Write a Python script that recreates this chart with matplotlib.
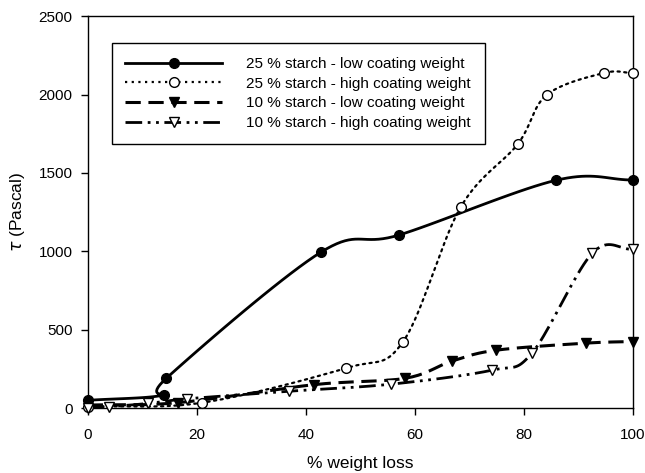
import matplotlib
matplotlib.use('Agg')
import matplotlib.pyplot as plt
import numpy as np

plt.rcParams['font.family'] = ['Liberation Sans', 'DejaVu Sans']

# values (% weight loss, tau in Pascal)
x_25_low = [0, 14.0, 14.4, 42.8, 57.1, 85.9, 100]
y_25_low = [50, 85, 190, 995, 1104, 1453, 1455]

x_25_high = [0, 21.0, 47.3, 57.8, 68.4, 78.9, 84.2, 94.7, 100]
y_25_high = [10, 35, 255, 421, 1280, 1684, 1997, 2137, 2137]

x_10_low = [0, 16.5, 41.5, 58.3, 66.8, 75.0, 91.5, 100]
y_10_low = [20, 35, 150, 191, 300, 370, 415, 425]

x_10_high = [0, 3.9, 11.0, 18.3, 36.9, 55.6, 74.1, 81.5, 92.6, 100]
y_10_high = [3, 10, 30, 60, 108, 153, 242, 351, 989, 1014]

labels = ['25 % starch - low coating weight',
          '25 % starch - high coating weight',
          '10 % starch - low coating weight',
          '10 % starch - high coating weight']


def smooth(xs, ys, n=20):
    # Catmull-Rom curve through the points (just for drawing the line)
    p = np.column_stack([xs, ys]).astype(float)
    p = np.vstack([2 * p[0] - p[1], p, 2 * p[-1] - p[-2]])
    t = np.linspace(0, 1, n)[:, None]
    out = []
    for i in range(1, len(p) - 2):
        p0, p1, p2, p3 = p[i - 1], p[i], p[i + 1], p[i + 2]
        seg = 0.5 * ((2 * p1) + (-p0 + p2) * t + (2 * p0 - 5 * p1 + 4 * p2 - p3) * t ** 2
                     + (-p0 + 3 * p1 - 3 * p2 + p3) * t ** 3)
        out.append(seg if i == 1 else seg[1:])
    out = np.vstack(out)
    return out[:, 0], out[:, 1]


fig = plt.figure(figsize=(6.45, 4.73), dpi=100)
ax = fig.add_axes([0.136, 0.137, 0.845, 0.829])

styles = [
    dict(ls='-', lw=2.0, marker='o', mfc='black', ms=7, dashes=None),
    dict(ls=':', lw=1.6, marker='o', mfc='white', ms=7, dashes=(1, 2)),
    dict(ls='--', lw=2.2, marker='v', mfc='black', ms=7, dashes=(5, 2.5)),
    dict(ls='-.', lw=2.0, marker='v', mfc='white', ms=7, dashes=(6, 2, 1, 2, 1, 2)),
]
series = [(x_25_low, y_25_low), (x_25_high, y_25_high),
          (x_10_low, y_10_low), (x_10_high, y_10_high)]

handles = []
for (xs, ys), st, lab in zip(series, styles, labels):
    sx, sy = smooth(xs, ys)
    line, = ax.plot(sx, sy, color='black', lw=st['lw'], ls=st['ls'], clip_on=False)
    if st['dashes'] is not None:
        line.set_dashes(st['dashes'])
        line.set_dash_capstyle('round' if st['ls'] == ':' else 'butt')
    ax.plot(xs, ys, ls='none', marker=st['marker'], mfc=st['mfc'], mec='black',
            ms=st['ms'], mew=1.0, clip_on=False, zorder=3)
    h, = ax.plot([], [], color='black', lw=st['lw'], ls=st['ls'], marker=st['marker'],
                 mfc=st['mfc'], mec='black', ms=st['ms'], mew=1.0)
    if st['dashes'] is not None:
        h.set_dashes(st['dashes'])
    handles.append(h)

ax.set_xlim(0, 100)
ax.set_ylim(0, 2500)
ax.set_xticks([0, 20, 40, 60, 80, 100])
ax.set_yticks([0, 500, 1000, 1500, 2000, 2500])
ax.tick_params(direction='out', length=5, width=1, labelsize=11)
ax.tick_params(axis='x', pad=9)
ax.tick_params(axis='y', pad=6)
for s in ax.spines.values():
    s.set_linewidth(1.0)

ax.set_xlabel('% weight loss', fontsize=12.5, labelpad=10)
ax.set_ylabel(r'$\tau$ (Pascal)', fontsize=12.5, labelpad=8)

leg = ax.legend(handles, labels, loc='upper left', bbox_to_anchor=(0.044, 0.931),
                borderaxespad=0, fontsize=11, handlelength=6.3, handletextpad=1.6,
                labelspacing=0.38, borderpad=0.9, fancybox=False,
                edgecolor='black', framealpha=1)
leg.get_frame().set_linewidth(1.0)

plt.savefig('out.png', dpi=100)
